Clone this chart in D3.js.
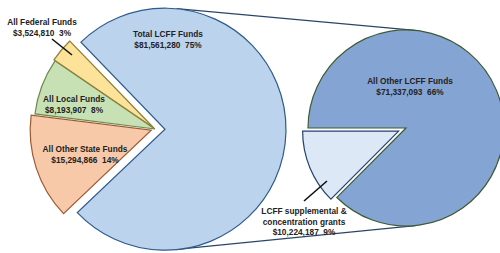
<!DOCTYPE html>
<html>
<head>
<meta charset="utf-8">
<script src="https://cdn.jsdelivr.net/npm/d3@7"></script>
<style>
  body { margin: 0; background: #fff; }
  text { font-family: "Liberation Sans", Arial, sans-serif; font-weight: bold; fill: #222; }
</style>
</head>
<body>
<svg id="chart" width="500" height="253"></svg>
<script>
// main pie
const main_names = ['Total LCFF Funds', 'All Other State Funds', 'All Local Funds', 'All Federal Funds'];
const main_values = [81561280, 15294866, 8193907, 3524810];
const main_fill = ['#bcd3ee', '#f8c9a9', '#c7e0b4', '#fde39a'];
const main_stroke = ['#2f5b8c', '#9c5a33', '#6e8a4c', '#8f7f38'];

// breakout of LCFF
const sub_names = ['All Other LCFF Funds', ['LCFF supplemental &', 'concentration grants']];
const sub_values = [71337093, 10224187];
const sub_fill = ['#84a4d3', '#dce8f6'];
const sub_stroke = ['#3e5a34', '#23436f'];

const total = d3.sum(main_values);
const fmt = d3.format('$,');
function pct(v){ return Math.round(v * 100 / total) + '%'; }

const svg = d3.select('#chart');
const deg = Math.PI / 180;

const c1 = {x: 155, y: 129}, r1 = 121;
const c2 = {x: 406, y: 128}, r2 = 98;
// offsets for exploded slices
const main_explode = [10, 4, 0, 1.5];
const sub_explode = [0, 8];

// connector lines (external tangents of the two circles)
const blue_cx = c1.x + 10;
const d = c2.x - blue_cx;
const alpha = Math.acos((r1 - r2) / d);
[-1, 1].forEach(function(s){
	svg.append('line')
		.attr('x1', blue_cx + r1 * Math.cos(alpha))
		.attr('y1', c1.y + s * r1 * Math.sin(alpha))
		.attr('x2', c2.x + r2 * Math.cos(alpha))
		.attr('y2', c2.y + s * r2 * Math.sin(alpha))
		.attr('stroke', '#2a4568')
		.attr('stroke-width', 1.3);
});

// left pie
let pie1 = d3.pie().sort(null).startAngle(-44 * deg).endAngle(316 * deg);
let arc1 = d3.arc().innerRadius(0).outerRadius(r1);
let g1 = svg.append('g').attr('transform', 'translate(' + c1.x + ',' + c1.y + ')');

g1.selectAll('path')
	.data(pie1(main_values))
	.enter()
	.append('path')
	.attr('d', arc1)
	.attr('transform', function(p, i){
		let m = (p.startAngle + p.endAngle) / 2;
		return 'translate(' + (Math.sin(m) * main_explode[i]) + ',' + (-Math.cos(m) * main_explode[i]) + ')';
	})
	.attr('fill', (p, i) => main_fill[i])
	.attr('stroke', (p, i) => main_stroke[i])
	.attr('stroke-width', 1.2)
	.attr('stroke-linejoin', 'miter');

// right pie
let pie2 = d3.pie().sort(null).startAngle(-90 * deg).endAngle(270 * deg);
let arc2 = d3.arc().innerRadius(0).outerRadius(r2);
let g2 = svg.append('g').attr('transform', 'translate(' + c2.x + ',' + c2.y + ')');

g2.selectAll('path')
	.data(pie2(sub_values))
	.enter()
	.append('path')
	.attr('d', function(p, i){ return i == 1 ? d3.arc().innerRadius(0).outerRadius(r2 - 2)(p) : arc2(p); })
	.attr('transform', function(p, i){
		let m = (p.startAngle + p.endAngle) / 2;
		return 'translate(' + (Math.sin(m) * sub_explode[i]) + ',' + (-Math.cos(m) * sub_explode[i]) + ')';
	})
	.attr('fill', (p, i) => sub_fill[i])
	.attr('stroke', (p, i) => sub_stroke[i])
	.attr('stroke-width', 1.2);

// leader lines
svg.append('line').attr('x1', 52).attr('y1', 39).attr('x2', 72).attr('y2', 55)
	.attr('stroke', '#111').attr('stroke-width', 1.6);
svg.append('line').attr('x1', 304).attr('y1', 201).attr('x2', 327).attr('y2', 181)
	.attr('stroke', '#111').attr('stroke-width', 1.6);

// labels
function label(lines, x, y){
	let t = svg.append('text')
		.attr('x', x)
		.attr('y', y)
		.attr('text-anchor', 'middle')
		.attr('font-size', '8.3px');
	lines.forEach(function(l, i){
		t.append('tspan').attr('x', x).attr('dy', i == 0 ? 0 : 10.5).text(l);
	});
}

const main_pos = [[168, 37], [85, 152], [74, 102], [42, 25]];
main_names.forEach(function(n, i){
	label([n, fmt(main_values[i]) + '\u00a0\u00a0' + pct(main_values[i])], main_pos[i][0], main_pos[i][1]);
});

label([sub_names[0], fmt(sub_values[0]) + '\u00a0\u00a0' + pct(sub_values[0])], 410, 84);
label(sub_names[1].concat([fmt(sub_values[1]) + '\u00a0\u00a0' + pct(sub_values[1])]), 304, 214);
</script>
</body>
</html>
